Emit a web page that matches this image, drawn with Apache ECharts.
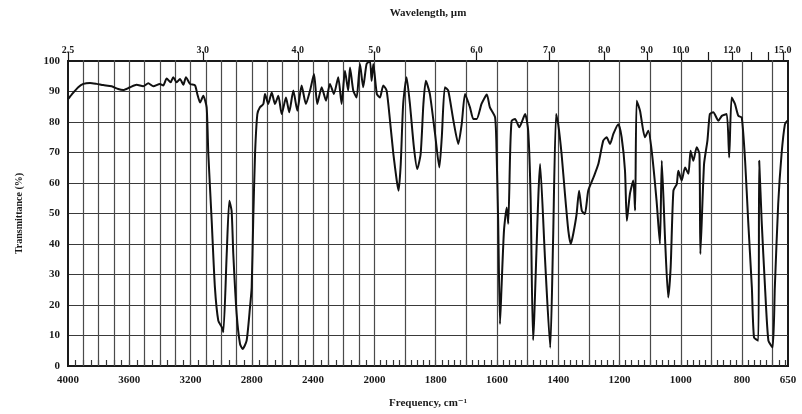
<!DOCTYPE html>
<html>
<head>
<meta charset="utf-8">
<script src="https://cdn.jsdelivr.net/npm/echarts@6/dist/echarts.min.js"></script>
<style>
  html, body { margin: 0; padding: 0; background: #fff; }
  #chart { width: 802px; height: 414px; }
</style>
</head>
<body>
<div id="chart"></div>
<script>
// IR spectrum. Frequency in cm-1, transmittance in %
const freq = [4000, 3976, 3933, 3900, 3856, 3813, 3770, 3715, 3672, 3639, 3595, 3552, 3509, 3476, 3443, 3400,
  3378, 3356, 3330, 3313, 3291, 3269, 3247, 3230, 3204, 3171, 3156, 3138, 3117, 3095, 3084, 3062, 3041, 3019,
  2997, 2986, 2964, 2947, 2932, 2921, 2899, 2877, 2860, 2834, 2812, 2801, 2791, 2779, 2764, 2747, 2725, 2714,
  2693, 2670, 2649, 2627, 2605, 2577, 2556, 2529, 2503, 2475, 2447, 2420, 2394, 2373, 2344, 2316, 2290, 2264,
  2236, 2214, 2192, 2171, 2159, 2138, 2116, 2094, 2073, 2051, 2029, 2018, 2007,
  1992, 1982, 1971, 1960, 1949, 1938, 1927, 1921, 1914, 1906, 1895, 1884, 1871, 1860, 1849, 1840, 1832, 1819,
  1802, 1788, 1780, 1770, 1759, 1742, 1726, 1715, 1704, 1688, 1677, 1666, 1650, 1633, 1623, 1606, 1601, 1596,
  1590, 1585, 1577, 1568, 1563, 1557, 1552, 1541, 1527, 1508, 1498, 1490, 1482, 1459, 1443, 1426, 1417, 1407,
  1400, 1389, 1378, 1367, 1359, 1351, 1340, 1332, 1323, 1313, 1302, 1285, 1269, 1253, 1242, 1231, 1220, 1204,
  1193, 1182, 1176, 1166, 1155, 1149, 1144, 1133, 1117, 1106, 1095, 1079, 1068, 1062, 1051, 1041, 1033, 1024,
  1013, 1008, 997, 986, 975, 968, 959, 948, 939, 936, 924, 913, 905, 894, 877, 866, 850, 842, 834, 823, 812,
  801, 790, 780, 768, 761, 747, 744, 736, 725, 714, 700, 693, 682, 671, 660, 652];
const trans = [87.5, 89, 91.4, 92.5, 92.8, 92.5, 92.1, 91.7, 90.8, 90.5, 91.4, 92.2, 91.7, 92.7, 91.7, 92.5,
  92, 94.3, 93, 94.7, 93, 94.1, 92.2, 94.7, 92.5, 92, 89.2, 86.4, 88.6, 84.8, 69.5, 47.6, 25.8, 14.9,
  12.8, 11.1, 36.7, 54.2, 50.9, 36.7, 17, 7.2, 5.6, 8.3, 19.2, 25.8, 47.6, 69.5, 82.6, 84.8, 85.9, 89.2,
  85.9, 89.7, 85.9, 88.6, 82.6, 88, 83.2, 90.3, 83.7, 92, 85.9, 90.3, 95.7, 85.9, 91.4, 87, 92.5, 89.2,
  94.7, 85.9, 96.8, 90.3, 97.9, 90.3, 88, 99, 91.4, 99, 100, 93.5, 99,
  89.2, 88, 92, 90.3, 80.4, 69.5, 60.8, 57.5, 66.2, 85.9, 94.7, 85.9, 71.7, 64.6, 69.5, 85.9, 93.5, 89.2,
  76.1, 65.1, 75, 91.4, 90.3, 80.4, 72.8, 79.3, 89.2, 84.8, 81, 81, 86, 89, 84.8, 81.5, 69.5, 47.6,
  13.8, 25.8, 44.4, 52, 46.6, 69.5, 80.4, 81, 78.3, 82.6, 77.1, 55, 8.5, 66.2, 35, 6, 40, 82.6,
  79.3, 69.5, 56.4, 44.4, 40, 43.3, 49.8, 57.5, 50.9, 49.8, 57.5, 61.8, 66.2, 73.9, 75, 72.8, 76.1, 79.3,
  75, 64, 47.6, 56.4, 60.8, 51, 87, 83.7, 75, 77.1, 70.6, 54.2, 40, 67.3, 41, 22.5, 32.4, 57.5,
  59.7, 64, 60.8, 65.1, 63, 70.6, 67.3, 71.7, 69.5, 36.7, 66.2, 73.9, 82.6, 83.2, 80.4, 82, 82.6, 68.4, 88, 85.9, 82,
  81.5, 67.3, 47.6, 25.8, 9.4, 8.3, 67.3, 47.6, 25.8, 8.3, 6.1, 25.8, 53.1, 69.5, 79.3, 80.4];

// axis labels
const freqLabels = [4000, 3600, 3200, 2800, 2400, 2000, 1800, 1600, 1400, 1200, 1000, 800, 650];
const waveLabels = ['2.5', '3.0', '4.0', '5.0', '6.0', '7.0', '8.0', '9.0', '10.0', '12.0', '15.0'];
// where the printed wavelength marks sit on the frequency scale
const waveAt = [4000, 3120, 2500, 2000, 1667, 1429, 1250, 1111, 1000, 833, 667];
const waveExtraTicks = [909, 769, 714];

// chart paper: 4000-2000 at half the scale of 2000-650
const toU = (v) => v >= 2000 ? (4000 - v) / 2 : 1000 + (2000 - v);
const fromU = (u) => u <= 1000 ? 4000 - u * 2 : 2000 - (u - 1000);

const gridFreq = [];
for (let v = 3900; v >= 700; v -= 100) gridFreq.push(v);
const minorFreq = [];
for (let v = 3950; v > 2000; v -= 50) minorFreq.push(v);
for (let v = 1980; v > 650; v -= 20) minorFreq.push(v);

const serif = '"Liberation Serif", "DejaVu Serif", serif';
const ink = '#1a1a1a';

const chart = echarts.init(document.getElementById('chart'));
const xBase = { type: 'value', min: 0, max: 2350, gridIndex: 0, splitLine: { show: false } };

chart.setOption({
  backgroundColor: '#fff',
  animation: false,
  grid: { left: 68, right: 14, top: 61, bottom: 47, show: true, borderColor: ink, borderWidth: 2 },
  xAxis: [
    Object.assign({}, xBase, {
      position: 'bottom',
      name: 'Frequency, cm\u207B\u00B9',
      nameLocation: 'middle',
      nameGap: 32,
      nameTextStyle: { fontFamily: serif, fontWeight: 'bold', fontSize: 11, color: ink },
      axisLine: { show: true, lineStyle: { color: ink, width: 2 } },
      axisTick: { show: true, inside: true, length: 6, customValues: minorFreq.map(toU), lineStyle: { color: '#333', width: 1.2 } },
      axisLabel: {
        customValues: freqLabels.map(toU),
        formatter: (u) => String(Math.round(fromU(u))),
        fontFamily: serif, fontWeight: 'bold', fontSize: 11, color: ink, margin: 9
      }
    }),
    Object.assign({}, xBase, {
      position: 'top',
      name: 'Wavelength, \u00B5m',
      nameLocation: 'middle',
      nameGap: 42,
      nameTextStyle: { fontFamily: serif, fontWeight: 'bold', fontSize: 11, color: ink },
      axisLine: { show: true, lineStyle: { color: ink, width: 2 } },
      axisTick: { show: true, length: 9, customValues: waveAt.concat(waveExtraTicks).map(toU), lineStyle: { color: ink, width: 1.2 } },
      axisLabel: {
        customValues: waveAt.map(toU),
        formatter: (u) => {
          let best = 0;
          waveAt.forEach((v, i) => { if (Math.abs(toU(v) - u) < Math.abs(toU(waveAt[best]) - u)) best = i; });
          return waveLabels[best];
        },
        fontFamily: serif, fontWeight: 'bold', fontSize: 10, color: ink, margin: 6
      }
    }),
    Object.assign({}, xBase, {
      position: 'bottom',
      axisLine: { show: false },
      axisLabel: { show: false },
      axisTick: { show: true, inside: true, length: 306, customValues: gridFreq.map(toU), lineStyle: { color: '#4a4a4a', width: 1.2 } }
    })
  ],
  yAxis: {
    type: 'value',
    min: 0,
    max: 100,
    interval: 10,
    name: 'Transmittance (%)',
    nameLocation: 'middle',
    nameGap: 44,
    nameTextStyle: { fontFamily: serif, fontWeight: 'bold', fontSize: 10, color: ink },
    axisLine: { show: true, lineStyle: { color: ink, width: 2 } },
    axisTick: { show: false },
    axisLabel: { fontFamily: serif, fontWeight: 'bold', fontSize: 11, color: ink, margin: 8 },
    splitLine: { show: true, lineStyle: { color: '#3a3a3a', width: 1.2 } }
  },
  series: [{
    type: 'line',
    xAxisIndex: 0,
    data: freq.map((v, i) => [toU(v), trans[i]]),
    showSymbol: false,
    smooth: 0.2,
    clip: true,
    lineStyle: { color: '#111', width: 2 }
  }]
});
</script>
</body>
</html>
